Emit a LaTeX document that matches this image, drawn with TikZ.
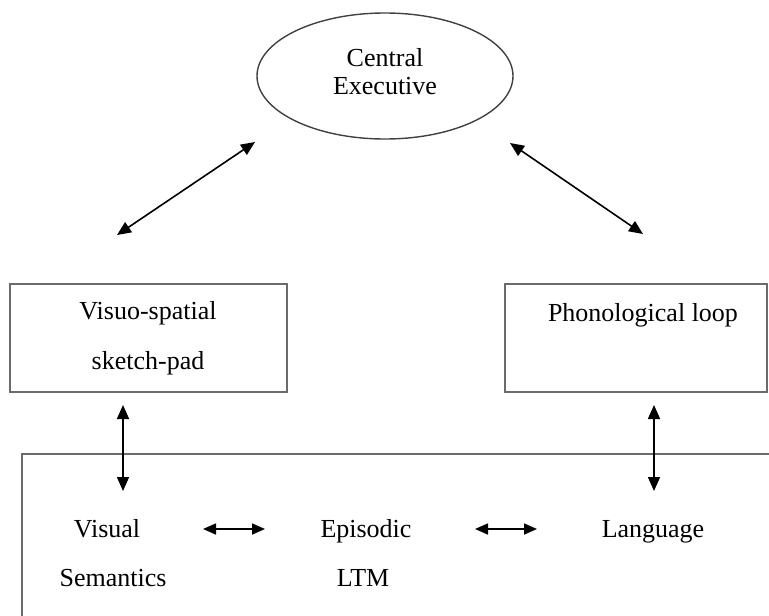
\documentclass[tikz,border=0pt]{standalone}
\usepackage{fontspec}
\setmainfont{Liberation Serif}
\usetikzlibrary{arrows.meta,shapes.geometric}
\begin{document}
\begin{tikzpicture}[x=1pt,y=-1pt,
  lbl/.style={inner sep=0pt,anchor=base,font=\fontsize{26}{28}\selectfont},
  boxline/.style={draw=black!58,line width=2pt},
  conn/.style={line width=1.6pt,{Triangle[length=14pt,width=12pt]}-{Triangle[length=14pt,width=12pt]}},
  hconn/.style={line width=1.6pt,{Triangle[length=13pt,width=11pt]}-{Triangle[length=13pt,width=11pt]}}]
\useasboundingbox (0,0) rectangle (769,616);
\clip (0,0) rectangle (769,616);
% ellipse
\node[draw=black!75,line width=1.4pt,ellipse,minimum width=256pt,minimum height=126pt,inner sep=0pt] (ce) at (385,76) {};
\node[lbl] (ce1) at (385,66) {Central};
\node[lbl] (ce2) at (385,94) {Executive};
% boxes
\node[boxline,rectangle,minimum width=277pt,minimum height=108pt,inner sep=0pt] (vs) at (148.5,338) {};
\node[lbl] (vs1) at (148,319) {Visuo-spatial};
\node[lbl] (vs2) at (148,369) {sketch-pad};
\node[boxline,rectangle,minimum width=262pt,minimum height=108pt,inner sep=0pt] (pl) at (636,338) {};
\node[lbl] (pl1) at (643,321) {Phonological loop};
% bottom box (open to right and bottom)
\coordinate (bb1) at (22,640);
\coordinate (bb2) at (22,454);
\coordinate (bb3) at (790,454);
\draw[boxline] (bb1) -- (bb2) -- (bb3);
% bottom texts
\node[lbl] (vis1) at (107,537) {Visual};
\node[lbl] (vis2) at (113,586) {Semantics};
\node[lbl] (ep1) at (366,537) {Episodic};
\node[lbl] (ep2) at (363,586) {LTM};
\node[lbl] (lang) at (653,537) {Language};
% connector ends
\coordinate (d1a) at (117,235);
\coordinate (d1b) at (255,142);
\coordinate (d2a) at (510,143);
\coordinate (d2b) at (643,234);
\coordinate (v1a) at (123,405);
\coordinate (v1b) at (123,491);
\coordinate (v2a) at (654,405);
\coordinate (v2b) at (654,491);
\coordinate (h1a) at (203,529);
\coordinate (h1b) at (265,529);
\coordinate (h2a) at (475,529);
\coordinate (h2b) at (537,529);
\draw[conn] (d1a) -- (d1b);
\draw[conn] (d2a) -- (d2b);
\draw[conn] (v1a) -- (v1b);
\draw[conn] (v2a) -- (v2b);
\draw[hconn] (h1a) -- (h1b);
\draw[hconn] (h2a) -- (h2b);
\end{tikzpicture}
\end{document}
